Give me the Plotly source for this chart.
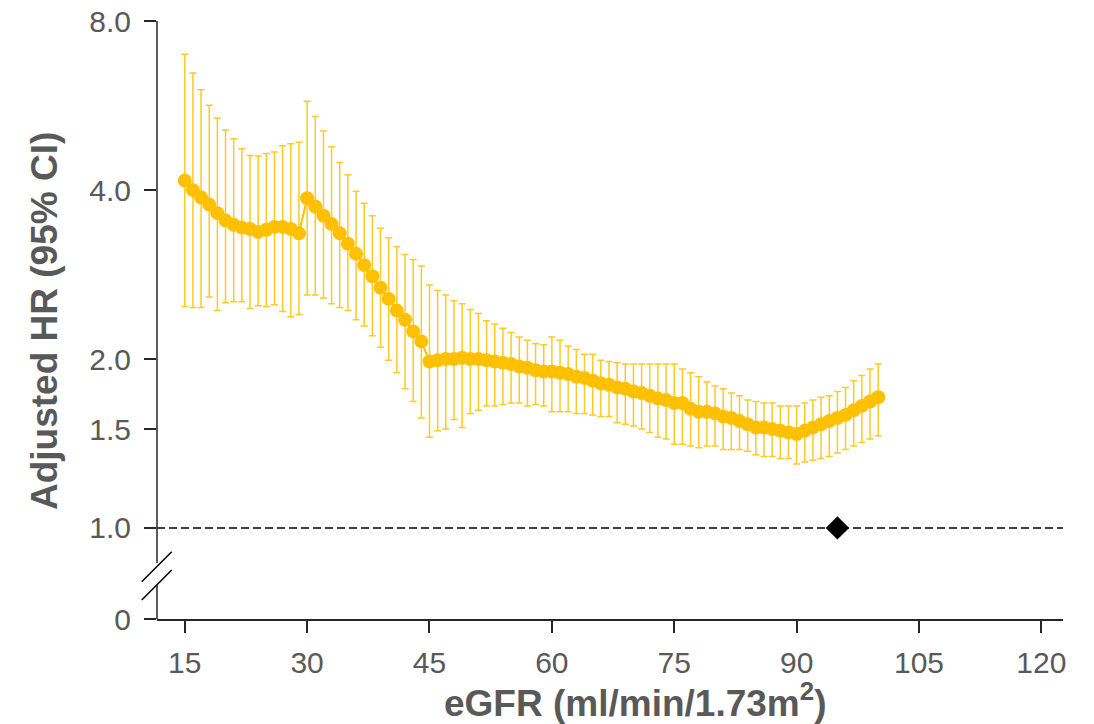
import math
import plotly.graph_objects as go

# ---------------- data ----------------
egfr = list(range(15, 101))

hr = [4.16, 4.00, 3.88, 3.77, 3.64, 3.53, 3.47, 3.43, 3.41, 3.37,
      3.40, 3.44, 3.44, 3.41, 3.35, 3.87, 3.74, 3.60, 3.48, 3.35,
      3.21, 3.08, 2.94, 2.81, 2.68, 2.56, 2.44, 2.35, 2.24, 2.15,
      1.98, 1.99, 2.00, 2.00, 2.01, 2.00, 2.00, 1.99, 1.98, 1.97,
      1.96, 1.94, 1.93, 1.91, 1.90, 1.90, 1.89, 1.88, 1.86, 1.85,
      1.83, 1.81, 1.80, 1.78, 1.77, 1.75, 1.74, 1.72, 1.70, 1.69,
      1.67, 1.67, 1.63, 1.61, 1.61, 1.60, 1.58, 1.57, 1.55, 1.53,
      1.51, 1.51, 1.50, 1.49, 1.48, 1.47, 1.49, 1.51, 1.53, 1.55,
      1.57, 1.59, 1.62, 1.65, 1.68, 1.71]

ci_upper = [6.99, 6.47, 6.04, 5.67, 5.38, 5.12, 4.94, 4.74, 4.61, 4.60,
            4.65, 4.68, 4.80, 4.84, 4.87, 5.76, 5.41, 5.10, 4.78, 4.48,
            4.26, 3.98, 3.79, 3.60, 3.42, 3.29, 3.17, 3.07, 3.01, 2.93,
            2.71, 2.65, 2.60, 2.54, 2.51, 2.45, 2.41, 2.34, 2.31, 2.27,
            2.23, 2.19, 2.16, 2.13, 2.12, 2.19, 2.16, 2.11, 2.08, 2.04,
            2.04, 1.99, 1.98, 1.97, 1.96, 1.96, 1.96, 1.96, 1.96, 1.96,
            1.96, 1.92, 1.89, 1.86, 1.82, 1.79, 1.77, 1.74, 1.72, 1.69,
            1.68, 1.67, 1.67, 1.65, 1.65, 1.65, 1.67, 1.69, 1.71, 1.72,
            1.75, 1.78, 1.83, 1.87, 1.92, 1.96]

ci_lower = [2.48, 2.47, 2.47, 2.58, 2.44, 2.52, 2.53, 2.53, 2.46, 2.49,
            2.48, 2.50, 2.43, 2.38, 2.40, 2.60, 2.60, 2.57, 2.51, 2.47,
            2.44, 2.35, 2.29, 2.20, 2.10, 1.99, 1.89, 1.77, 1.68, 1.57,
            1.45, 1.49, 1.50, 1.56, 1.51, 1.60, 1.62, 1.65, 1.65, 1.66,
            1.67, 1.67, 1.65, 1.66, 1.65, 1.61, 1.61, 1.61, 1.60, 1.60,
            1.59, 1.58, 1.58, 1.54, 1.53, 1.52, 1.50, 1.48, 1.45, 1.44,
            1.41, 1.41, 1.40, 1.39, 1.40, 1.40, 1.38, 1.38, 1.38, 1.37,
            1.35, 1.34, 1.34, 1.33, 1.33, 1.30, 1.31, 1.32, 1.33, 1.34,
            1.36, 1.38, 1.40, 1.42, 1.44, 1.46]

ref_egfr = [95]
ref_hr = [1.0]
REF_LINE_HR = 1.0

x_tickvals = [15, 30, 45, 60, 75, 90, 105, 120]
y_tickvals = [1.0, 1.5, 2.0, 4.0, 8.0]
y_ticktext = ["1.0", "1.5", "2.0", "4.0", "8.0"]
y_zero_text = "0"

# ---------------- layout constants (page pixels; body margin set to 0) ----------------
FIG_W, FIG_H = 1094, 724
PLOT_L, PLOT_R, PLOT_T, PLOT_B = 157, 1063, 21, 619
ML, MT = PLOT_L, PLOT_T
MR, MB = FIG_W - PLOT_R, FIG_H - PLOT_B
PW, PH = PLOT_R - PLOT_L, PLOT_B - PLOT_T

X_RANGE = [11.6, 122.65]
Y_BOTTOM = 0.688          # position of the broken-axis "0" tick
Y_TOP = 8.0
GOLD = "#FFC000"
AXIS_COL = "#262626"
TXT_COL = "#595959"
FONT = "Liberation Sans, Arial, sans-serif"
TICK_SIZE = 30
TITLE_SIZE = 37


def px(xp):
    return (xp - PLOT_L) / PW


def py(yp):
    return (PLOT_B - yp) / PH


err_plus = [u - v for u, v in zip(ci_upper, hr)]
err_minus = [v - l for v, l in zip(hr, ci_lower)]

fig = go.Figure()

# reference dashed line at HR = 1
fig.add_trace(go.Scatter(
    x=X_RANGE, y=[REF_LINE_HR, REF_LINE_HR], mode="lines",
    line=dict(color="#000000", width=1.5, dash="8px,4px"),
    hoverinfo="skip", showlegend=False, cliponaxis=False))

fig.add_trace(go.Scatter(
    x=egfr, y=hr, mode="lines+markers",
    line=dict(color=GOLD, width=2),
    marker=dict(color=GOLD, size=14),
    error_y=dict(type="data", symmetric=False, array=err_plus,
                 arrayminus=err_minus, color="rgba(255,192,0,0.85)",
                 thickness=1.5, width=3.5),
    showlegend=False))

fig.add_trace(go.Scatter(
    x=ref_egfr, y=ref_hr, mode="markers",
    marker=dict(symbol="diamond", size=18, color="#000000"),
    showlegend=False, cliponaxis=False))

shapes = [
    # y-axis line, broken
    dict(type="line", xref="paper", yref="paper", x0=0, x1=0,
         y0=py(563), y1=1, line=dict(color=AXIS_COL, width=1.5)),
    dict(type="line", xref="paper", yref="paper", x0=0, x1=0,
         y0=0, y1=py(585), line=dict(color=AXIS_COL, width=1.5)),
    # break marks
    dict(type="line", xref="paper", yref="paper", x0=px(141.7), x1=px(171.7),
         y0=py(581.7), y1=py(551.7), line=dict(color="#000000", width=1.5)),
    dict(type="line", xref="paper", yref="paper", x0=px(141.7), x1=px(171.7),
         y0=py(600), y1=py(570), line=dict(color="#000000", width=1.5)),
]

annotations = [
    dict(text="eGFR (ml/min/1.73m<sup>2</sup>)", xref="paper", yref="paper",
         x=px(635), y=py(700), xanchor="center", yanchor="middle",
         showarrow=False,
         font=dict(family=FONT, size=TITLE_SIZE, color=TXT_COL, weight="bold")),
    dict(text="Adjusted HR (95% CI)", xref="paper", yref="paper",
         x=px(44), y=py(321), xanchor="center", yanchor="middle",
         textangle=-90, showarrow=False,
         font=dict(family=FONT, size=TITLE_SIZE, color=TXT_COL, weight="bold")),
]

fig.update_layout(
    width=FIG_W, height=FIG_H,
    margin=dict(l=ML, r=MR, t=MT, b=MB, pad=0, autoexpand=False),
    paper_bgcolor="white", plot_bgcolor="white",
    font=dict(family=FONT, color=TXT_COL, size=TICK_SIZE),
    shapes=shapes, annotations=annotations,
    xaxis=dict(range=X_RANGE, tickvals=x_tickvals, ticks="outside",
               ticklen=12, tickwidth=1.5, tickcolor=AXIS_COL,
               showline=True, linecolor=AXIS_COL, linewidth=1.5,
               showgrid=False, zeroline=False, automargin=False,
               tickfont=dict(family=FONT, size=TICK_SIZE, color=TXT_COL),
               ticklabelstandoff=4),
    yaxis=dict(type="log",
               range=[math.log10(Y_BOTTOM), math.log10(Y_TOP) + 0.0005],
               tickvals=[Y_BOTTOM] + y_tickvals,
               ticktext=[y_zero_text] + y_ticktext,
               ticks="outside", ticklen=12, tickwidth=1.5, tickcolor=AXIS_COL,
               showline=False, showgrid=False, zeroline=False, automargin=False,
               tickfont=dict(family=FONT, size=TICK_SIZE, color=TXT_COL),
               ticklabelstandoff=7, ticklabeloverflow="allow"),
)

fig.write_html("out.html",
               config={"displayModeBar": False},
               post_script="document.body.style.margin='0';"
                           "document.body.style.overflow='hidden';")
